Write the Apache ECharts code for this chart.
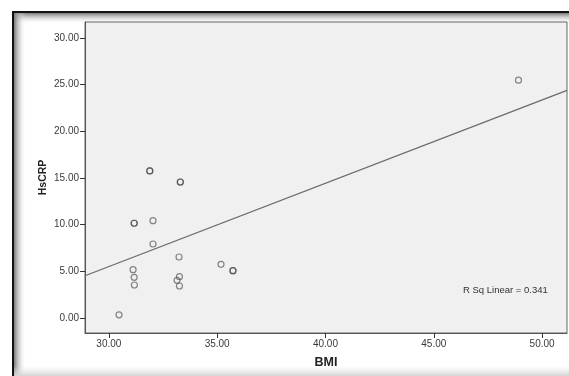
<!DOCTYPE html>
<html>
<head>
<meta charset="utf-8">
<script src="https://cdn.jsdelivr.net/npm/echarts@6/dist/echarts.min.js"></script>
<style>html,body{margin:0;padding:0;background:#fff;}#c{width:569px;height:376px;}</style>
</head>
<body>
<div id="c"></div>
<script>
var bmi   = [31.89, 31.89, 33.30, 33.30, 31.17, 31.17, 32.04, 32.04, 33.24, 31.12, 31.17, 31.18, 33.26, 33.15, 33.26, 30.47, 35.18, 35.73, 35.73, 48.91];
var hscrp = [15.75, 15.75, 14.57, 14.57, 10.15, 10.15, 10.43, 7.93, 6.54, 5.18, 4.36, 3.54, 4.43, 4.04, 3.43, 0.35, 5.75, 5.07, 5.07, 25.47];
// fitted linear line endpoints
var fitX = [28.9, 51.15];
var fitY = [4.53, 24.38];
var xTicks = [30, 35, 40, 45, 50];
var yTicks = [0, 5, 10, 15, 20, 25, 30];
var rsqText = 'R Sq Linear = 0.341';

var pts = bmi.map(function (v, i) { return [v, hscrp[i]]; });
var fit = fitX.map(function (v, i) { return [v, fitY[i]]; });
var FONT = 'Liberation Sans, Arial, sans-serif';

var chart = echarts.init(document.getElementById('c'));
chart.setOption({
  backgroundColor: '#fff',
  animation: false,
  graphic: [
    { type: 'rect', z: -10, shape: { x: 14, y: 13, width: 560, height: 11 },
      style: { fill: new echarts.graphic.LinearGradient(0, 0, 0, 1, [{offset: 0, color: '#7a7a7a'}, {offset: 1, color: 'rgba(255,255,255,0)'}]) } },
    { type: 'rect', z: -10, shape: { x: 14, y: 13, width: 12, height: 370 },
      style: { fill: new echarts.graphic.LinearGradient(0, 0, 1, 0, [{offset: 0, color: '#7a7a7a'}, {offset: 1, color: 'rgba(255,255,255,0)'}]) } },
    { type: 'rect', z: -10, shape: { x: 14, y: 366, width: 560, height: 10 },
      style: { fill: new echarts.graphic.LinearGradient(0, 0, 0, 1, [{offset: 0, color: 'rgba(230,230,230,0)'}, {offset: 1, color: '#d4d4d4'}]) } },
    { type: 'rect', z: -9, shape: { x: 12, y: 11, width: 560, height: 2 }, style: { fill: '#111' } },
    { type: 'rect', z: -9, shape: { x: 12, y: 11, width: 2, height: 370 }, style: { fill: '#111' } },
    { type: 'text', z: 10, left: 463, top: 285,
      style: { text: rsqText, fontSize: 9.5, fontFamily: FONT, fill: '#333' } }
  ],
  grid: {
    left: 85, top: 22, right: 2, bottom: 43,
    show: true, backgroundColor: '#f0f0f0', borderColor: '#666', borderWidth: 1
  },
  xAxis: {
    type: 'value', min: 28.9, max: 51.15,
    name: 'BMI', nameLocation: 'middle', nameGap: 23, nameMoveOverlap: false,
    nameTextStyle: { fontSize: 12.5, fontWeight: 'bold', color: '#222', fontFamily: FONT },
    axisLine: { show: true, onZero: false, lineStyle: { color: '#555', width: 1 } },
    axisTick: { show: true, length: 5, customValues: xTicks, lineStyle: { color: '#333' } },
    axisLabel: { customValues: xTicks, margin: 6, fontSize: 10, color: '#3a3a3a', fontFamily: FONT,
      formatter: function (v) { return v.toFixed(2); } },
    splitLine: { show: false }
  },
  yAxis: {
    type: 'value', min: -1.6, max: 31.7,
    name: 'HsCRP', nameLocation: 'middle', nameGap: 36, nameMoveOverlap: false,
    nameTextStyle: { fontSize: 10.5, fontWeight: 'bold', color: '#222', fontFamily: FONT },
    axisLine: { show: true, onZero: false, lineStyle: { color: '#555', width: 1 } },
    axisTick: { show: true, length: 5, customValues: yTicks, lineStyle: { color: '#333' } },
    axisLabel: { customValues: yTicks, margin: 6, fontSize: 10, color: '#3a3a3a', fontFamily: FONT,
      formatter: function (v) { return v.toFixed(2); } },
    splitLine: { show: false }
  },
  series: [
    { type: 'line', data: fit, symbol: 'none', silent: true,
      lineStyle: { color: '#6a6a6a', width: 1.3 }, z: 2 },
    { type: 'scatter', data: pts, symbol: 'circle', symbolSize: 6,
      itemStyle: { color: 'rgba(0,0,0,0)', borderColor: 'rgba(60,60,60,0.75)', borderWidth: 1.2 }, z: 3 }
  ]
});
</script>
</body>
</html>
